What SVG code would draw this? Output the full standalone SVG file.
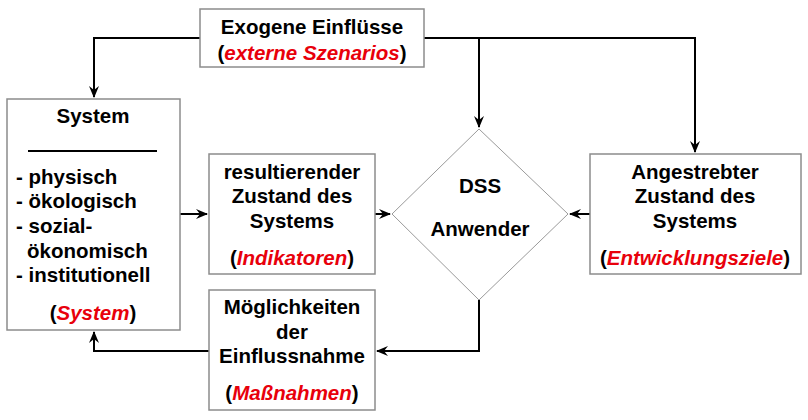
<svg xmlns="http://www.w3.org/2000/svg" width="808" height="420" viewBox="0 0 808 420">
<style>
.box{fill:#fff;stroke:#8c8c8c;stroke-width:1.5}
.dia{fill:#fff;stroke:#9a9a9a;stroke-width:1}
text{font-family:"Liberation Sans",Arial,sans-serif;font-weight:bold;font-size:20.5px;fill:#000}
.c{text-anchor:middle}
.r{fill:#e8000b;font-style:italic}
.con{fill:none;stroke:#000;stroke-width:2}
</style>
<defs>
<marker id="ah" viewBox="0 0 12 10" refX="11" refY="5" markerWidth="12" markerHeight="10" markerUnits="userSpaceOnUse" orient="auto">
<path d="M0,0 L12,5 L0,10 L4,5 z" fill="#000"/>
</marker>
</defs>
<rect width="808" height="420" fill="#fff"/>
<g id="connectors">
<path class="con" d="M200,38 H94 V97" marker-end="url(#ah)"/>
<path class="con" d="M424,38 H695 V152" marker-end="url(#ah)"/>
<path class="con" d="M479,38 V127" marker-end="url(#ah)"/>
<path class="con" d="M180,214 H207" marker-end="url(#ah)"/>
<path class="con" d="M375,214 H390" marker-end="url(#ah)"/>
<path class="con" d="M590,214 H570" marker-end="url(#ah)"/>
<path class="con" d="M479,300 V351 H377" marker-end="url(#ah)"/>
<path class="con" d="M209,351 H94 V332" marker-end="url(#ah)"/>
</g>
<g id="exogen">
<rect class="box" x="200" y="9" width="224" height="58"/>
<text class="c" x="312" y="34">Exogene Einflüsse</text>
<text class="c" x="312" y="60">(<tspan class="r">externe Szenarios</tspan>)</text>
</g>
<g id="system">
<rect class="box" x="7" y="99" width="173" height="231"/>
<text class="c" x="93" y="123">System</text>
<line x1="28" y1="151" x2="157" y2="151" stroke="#000" stroke-width="2"/>
<text x="16" y="184">- physisch</text>
<text x="16" y="208">- ökologisch</text>
<text x="16" y="233">- sozial-</text>
<text x="27" y="258">ökonomisch</text>
<text x="16" y="282">- institutionell</text>
<text class="c" x="93" y="320">(<tspan class="r">System</tspan>)</text>
</g>
<g id="resultierend">
<rect class="box" x="209" y="154" width="166" height="120"/>
<text class="c" x="292" y="179">resultierender</text>
<text class="c" x="292" y="203">Zustand des</text>
<text class="c" x="292" y="228">Systems</text>
<text class="c" x="292" y="265">(<tspan class="r">Indikatoren</tspan>)</text>
</g>
<g id="massnahmen">
<rect class="box" x="209" y="290" width="166" height="120"/>
<text class="c" x="292" y="314">Möglichkeiten</text>
<text class="c" x="292" y="339">der</text>
<text class="c" x="292" y="363">Einflussnahme</text>
<text class="c" x="292" y="400">(<tspan class="r">Maßnahmen</tspan>)</text>
</g>
<g id="dss">
<polygon class="dia" points="479,129 568,214 479,300 392,214"/>
<text class="c" x="480" y="193">DSS</text>
<text class="c" x="480" y="236">Anwender</text>
</g>
<g id="ziel">
<rect class="box" x="590" y="154" width="211" height="120"/>
<text class="c" x="695" y="179">Angestrebter</text>
<text class="c" x="695" y="203">Zustand des</text>
<text class="c" x="695" y="228">Systems</text>
<text class="c" x="695" y="265">(<tspan class="r">Entwicklungsziele</tspan>)</text>
</g>
</svg>
